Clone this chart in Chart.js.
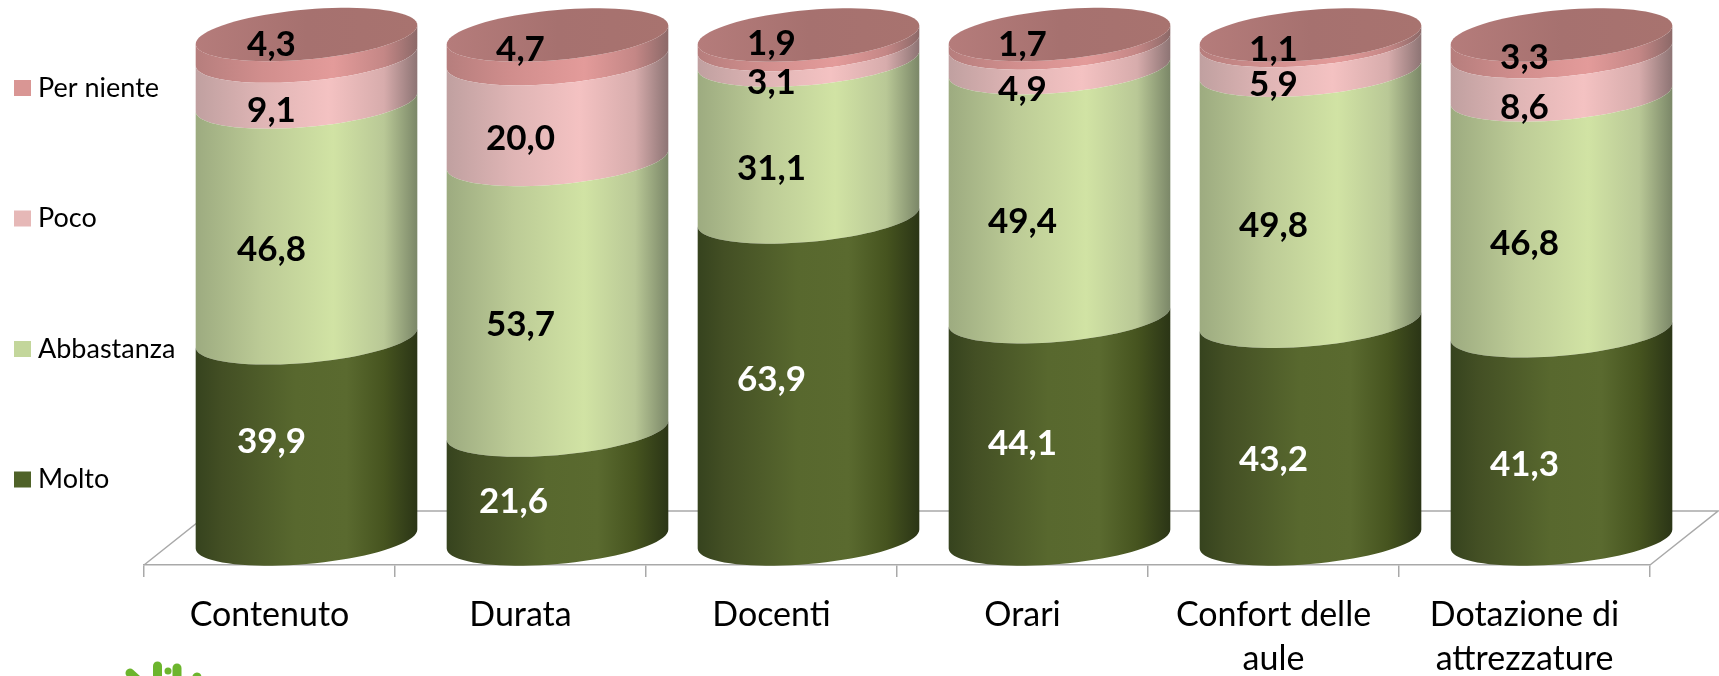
<!DOCTYPE html>
<html>
<head>
<meta charset="utf-8">
<title>Soddisfazione</title>
<script src="https://cdn.jsdelivr.net/npm/chart.js@4"></script>
<style>
    html, body { margin: 0; padding: 0; background: #fff; overflow: hidden; }
    canvas { display: block; }
</style>
</head>
<body>
<canvas id="myBarChart" width="1719" height="676"></canvas>
<script>
const categories = ['Contenuto', 'Durata', 'Docenti', 'Orari', ['Confort delle', 'aule'], ['Dotazione di', 'attrezzature']];
const seriesNames = ['Molto', 'Abbastanza', 'Poco', 'Per niente'];
const molto = [39.9, 21.6, 63.9, 44.1, 43.2, 41.3];
const abbastanza = [46.8, 53.7, 31.1, 49.4, 49.8, 46.8];
const poco = [9.1, 20.0, 3.1, 4.9, 5.9, 8.6];
const perNiente = [4.3, 4.7, 1.9, 1.7, 1.1, 3.3];

// the value labels were nudged by hand in the original, these are pixel shifts from the segment middle
const labelShifts = [
    [3, 17, 2, 16, 30, 30],
    [30, 30, 30, 29, 30, 31],
    [32, 30, 30, 34, 29, 34],
    [-1, 3, 4, 6, 12, 14]
];
const labelShiftsX = [
    [2, -7, 0, 0, 0, 0],
    [2, 0, 0, 0, 0, 0],
    [2, 0, 0, 0, 0, 0],
    [2, 0, 0, 0, 0, 0]
];

const swatches = ['#4f6228', '#c3d69b', '#e6b8b7', '#d99694'];
const labelColors = ['#fff', '#000', '#000', '#000'];
const shades = [
    [[0, '#36431e'], [0.12, '#434f24'], [0.45, '#58682e'], [0.68, '#5a6a2f'], [0.85, '#46541f'], [1, '#2b3516']],
    [[0, '#9dab80'], [0.3, '#bccb96'], [0.62, '#d1e3a4'], [0.85, '#b9c896'], [1, '#7b8768']],
    [[0, '#c0a0a0'], [0.3, '#dfb5b5'], [0.6, '#f4c2c2'], [0.85, '#d7acac'], [1, '#8d7474']],
    [[0, '#b67e7d'], [0.3, '#d18e8d'], [0.62, '#e39b9a'], [0.85, '#c48786'], [1, '#8c6968']]
];

// cylinders stand in the middle of the floor
const depthX = 37;
const depthY = 26;
const floorX = 68;
const floorY = 54;
const tilt = 0.085;
const capHeight = 25;

function frontArc(ctx, cx, cy, a, fromLeft) {
    for (let i = 0; i <= 40; i++) {
        const t = Math.PI * i / 40;
        const ang = fromLeft ? Math.PI - t : t;
        const dx = a * Math.cos(ang);
        const py = cy + capHeight * Math.sin(ang) - dx * tilt;
        ctx.lineTo(cx + dx, py);
    }
}

const cylinders = {
    id: 'cylinders',
    beforeDatasetsDraw(chart) {
        const ctx = chart.ctx;
        const { left, right, bottom } = chart.chartArea;
        ctx.save();
        ctx.strokeStyle = '#a9a9a9';
        ctx.lineWidth = 1.5;
        ctx.beginPath();
        ctx.moveTo(left, bottom);
        ctx.lineTo(left + floorX, bottom - floorY);
        ctx.lineTo(right + floorX, bottom - floorY);
        ctx.lineTo(right, bottom);
        ctx.stroke();
        ctx.restore();
    },
    beforeDatasetDraw(chart, args) {
        const ctx = chart.ctx;
        args.meta.data.forEach(bar => {
            const a = bar.width / 2;
            const cx = bar.x + depthX;
            const grad = ctx.createLinearGradient(cx - a, 0, cx + a, 0);
            shades[args.index].forEach(s => grad.addColorStop(s[0], s[1]));
            ctx.save();
            ctx.fillStyle = grad;
            ctx.beginPath();
            frontArc(ctx, cx, bar.base - depthY, a, true);
            frontArc(ctx, cx, bar.y - depthY, a, false);
            ctx.closePath();
            ctx.fill();
            ctx.restore();
        });
        return false;
    },
    afterDatasetsDraw(chart) {
        const ctx = chart.ctx;
        const lastIdx = chart.data.datasets.length - 1;
        // top face of each cylinder
        chart.getDatasetMeta(lastIdx).data.forEach(bar => {
            const a = bar.width / 2;
            const cx = bar.x + depthX;
            const grad = ctx.createLinearGradient(cx - a, 0, cx + a, 0);
            grad.addColorStop(0, '#b57c7b');
            grad.addColorStop(0.5, '#a6716f');
            grad.addColorStop(1, '#a8736f');
            ctx.save();
            ctx.fillStyle = grad;
            ctx.beginPath();
            frontArc(ctx, cx, bar.y - depthY, a, true);
            for (let i = 0; i <= 40; i++) {
                const ang = Math.PI * i / 40;
                const dx = a * Math.cos(ang);
                ctx.lineTo(cx + dx, bar.y - depthY - capHeight * Math.sin(ang) - dx * tilt);
            }
            ctx.closePath();
            ctx.fill();
            ctx.restore();
        });

        // value labels, comma decimals like the original
        ctx.save();
        ctx.font = 'bold 35px Lato';
        ctx.textAlign = 'center';
        ctx.textBaseline = 'middle';
        chart.data.datasets.forEach((ds, d) => {
            chart.getDatasetMeta(d).data.forEach((bar, i) => {
                const mid = (bar.y + bar.base) / 2 - depthY;
                ctx.fillStyle = labelColors[d];
                ctx.fillText(ds.data[i].toFixed(1).replace('.', ','), bar.x + labelShiftsX[d][i], mid + labelShifts[d][i]);
            });
        });
        ctx.restore();
    },
    afterDraw(chart) {
        const ctx = chart.ctx;
        // legend column on the left, top series first
        ctx.save();
        ctx.font = '27px Lato';
        ctx.textBaseline = 'middle';
        const n = chart.data.datasets.length;
        chart.data.datasets.forEach((ds, d) => {
            const y = 88 + (n - 1 - d) * 130.5;
            ctx.fillStyle = ds.backgroundColor;
            ctx.fillRect(14, y - 8, 17, 16);
            ctx.fillStyle = '#000';
            ctx.fillText(ds.label, 38, y);
        });
        ctx.restore();

        // top of the logo cut by the bottom edge of the picture
        ctx.save();
        ctx.strokeStyle = '#6cb52d';
        ctx.fillStyle = '#6cb52d';
        ctx.lineCap = 'round';
        ctx.lineWidth = 9;
        [[157.5, 666, 157.5, 690], [177, 668, 177, 690], [130, 673, 142, 684], [197, 677, 190, 690]].forEach(s => {
            ctx.beginPath();
            ctx.moveTo(s[0], s[1]);
            ctx.lineTo(s[2], s[3]);
            ctx.stroke();
        });
        ctx.beginPath();
        ctx.arc(168, 671, 3.5, 0, Math.PI * 2);
        ctx.fill();
        ctx.restore();
    }
};

const ctx = document.getElementById('myBarChart').getContext('2d');
const seriesValues = [molto, abbastanza, poco, perNiente];

new Chart(ctx, {
    type: 'bar',
    data: {
        labels: categories,
        datasets: seriesNames.map((name, i) => ({
            label: name,
            data: seriesValues[i],
            backgroundColor: swatches[i],
            categoryPercentage: 0.883,
            barPercentage: 1
        }))
    },
    options: {
        responsive: false,
        animation: false,
        layout: { padding: { left: 144, right: 69, top: 61, bottom: 0 } },
        plugins: { legend: { display: false }, tooltip: { enabled: false } },
        scales: {
            x: {
                stacked: true,
                afterFit(scale) { scale.height = 111; },
                border: { color: '#a9a9a9', width: 1.5 },
                grid: { drawOnChartArea: false, color: '#a9a9a9', lineWidth: 1.5, tickLength: 12 },
                ticks: { color: '#000', font: { family: 'Lato', size: 34, lineHeight: 1.3 }, maxRotation: 0, autoSkip: false, padding: 16 }
            },
            y: {
                stacked: true,
                display: false,
                min: 0,
                max: 100
            }
        }
    },
    plugins: [cylinders]
});
</script>
</body>
</html>
